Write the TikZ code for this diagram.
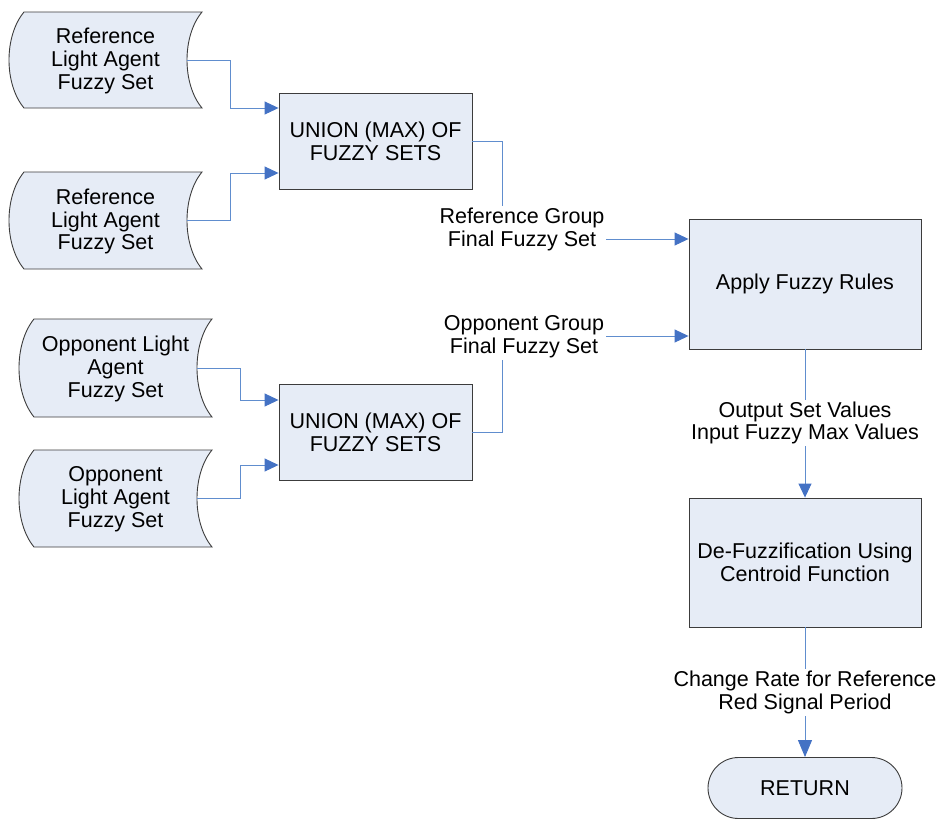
\documentclass[tikz,border=0pt]{standalone}
\usepackage{fontspec}
\setmainfont{Liberation Sans}
\usetikzlibrary{arrows.meta,shapes.misc}

\definecolor{boxfill}{RGB}{230,236,246}
\definecolor{boxline}{RGB}{60,60,60}
\definecolor{linkblue}{RGB}{96,141,206}
\definecolor{tipblue}{RGB}{68,114,196}

\tikzset{
  every node/.style={font=\fontsize{21.5}{22.8}\selectfont, align=center},
  procbox/.style={draw=boxline, fill=boxfill, line width=0.9pt, inner sep=0pt},
  storeshape/.style={draw=boxline, fill=boxfill, line width=0.9pt},
  endbox/.style={rounded rectangle, draw=boxline, fill=boxfill, line width=0.9pt,
                 minimum width=194pt, minimum height=61pt, inner sep=0pt},
  conn/.style={draw=linkblue, line width=0.9pt,
               -{Triangle[length=14pt,width=13pt,color=tipblue]}},
  lbl/.style={fill=white, inner sep=2pt}
}

% stored-data symbol: name, left, top, right, bottom, text
\newcommand\storedset[6]{%
  \filldraw[storeshape] (#2+15,#3)
    .. controls (#2-5,{#3+(#5-#3)/4}) and (#2-5,{#5-(#5-#3)/4}) .. (#2+15,#5)
    -- (#4,#5)
    .. controls (#4-20,{#5-(#5-#3)/4}) and (#4-20,{#3+(#5-#3)/4}) .. (#4,#3)
    -- cycle;
  \node[inner sep=0pt, minimum width={(#4-#2)*1pt}, minimum height={(#5-#3)*1pt}]
    (#1) at ({(#2+#4)/2},{(#3+#5)/2+1}) {#6};
}

\begin{document}
\begin{tikzpicture}[x=1pt, y=-1pt]
\useasboundingbox (0,0) rectangle (942,819);

% input fuzzy sets
\storedset{ref1}{9}{12}{202}{108}{Reference\\Light Agent\\Fuzzy Set}
\storedset{ref2}{9}{172}{202}{269}{Reference\\Light Agent\\Fuzzy Set}
\storedset{opp1}{19}{319}{212}{417}{Opponent Light\\Agent\\Fuzzy Set}
\storedset{opp2}{19}{450}{212}{547}{Opponent\\Light Agent\\Fuzzy Set}

% processing steps
\node[procbox, minimum width=193pt, minimum height=96pt] (u1) at (375.5,141) {UNION (MAX) OF\\FUZZY SETS};
\node[procbox, minimum width=193pt, minimum height=96pt] (u2) at (375.5,432) {UNION (MAX) OF\\FUZZY SETS};
\node[procbox, minimum width=232pt, minimum height=130pt] (rules) at (805,284) {Apply Fuzzy Rules};
\node[procbox, minimum width=232pt, minimum height=129pt] (defuzz) at (805,562.5) {De-Fuzzification Using\\Centroid Function};
\node[endbox] (ret) at (805,788) {RETURN};

% set inputs into the unions
\draw[conn] ([xshift=-15pt,yshift=1pt]ref1.east) -- ++(43,0) |- ([yshift=33pt]u1.west);
\draw[conn] ([xshift=-15pt,yshift=1pt]ref2.east) -- ++(43,0) |- ([yshift=-32pt]u1.west);
\draw[conn] ([xshift=-15pt,yshift=1pt]opp1.east) -- ++(43,0) |- ([yshift=32pt]u2.west);
\draw[conn] ([xshift=-15pt,yshift=1pt]opp2.east) -- ++(43,0) |- ([yshift=-33pt]u2.west);

% group sets into the rule step
\draw[conn] (u1.east) -- ++(30,0) |- ([yshift=45pt]rules.west);
\node[lbl] (lref) at (522,229.5) {Reference Group\\Final Fuzzy Set};
\draw[conn] (u2.east) -- ++(30,0) |- ([yshift=-52pt]rules.west);
\node[lbl] (lopp) at (524,336.5) {Opponent Group\\Final Fuzzy Set};

% rules -> defuzzification -> return
\draw[conn] (rules.south) -- (defuzz.north);
\node[lbl] (lout) at (805,423) {Output Set Values\\Input Fuzzy Max Values};
\draw[draw=linkblue, line width=0.9pt,
      -{Triangle[length=17pt,width=14pt,color=tipblue]}] (defuzz.south) -- (ret.north);
\node[lbl] (lrate) at (805,692.5) {Change Rate for Reference\\Red Signal Period};
\end{tikzpicture}
\end{document}
